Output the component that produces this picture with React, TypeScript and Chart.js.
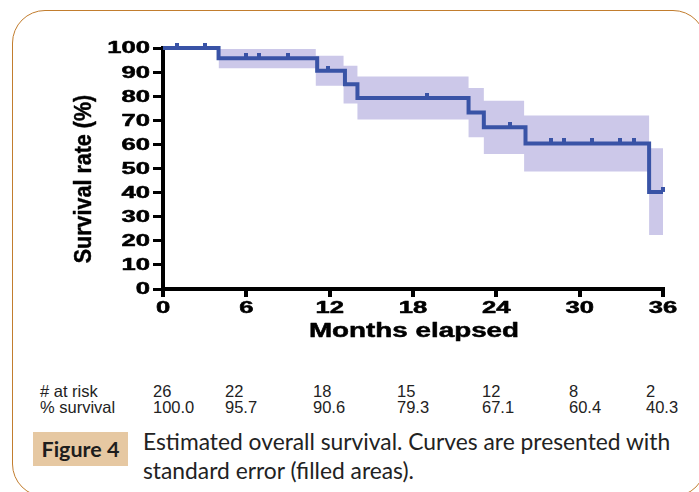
import React, { useEffect, useRef } from "react";
import { Chart, registerables } from "chart.js";

Chart.register(...registerables);

// Kaplan-Meier step points (months, % survival)
const months = [0, 4.0, 11.1, 13.1, 14.0, 22.0, 23.1, 26.1, 35.0, 36.0];
const survival = [100, 95.7, 90.6, 85.0, 79.3, 73.2, 67.1, 60.4, 40.3, 40.3];

// Standard-error band (stepped)
const bandMonths = [4.0, 11.0, 13.0, 14.0, 22.0, 23.1, 26.0, 35.0, 36.0];
const bandUpper = [99.6, 96.8, 92.6, 88.2, 83.4, 78.1, 72.0, 58.4, 58.4];
const bandLower = [91.6, 84.3, 77.0, 70.3, 63.0, 56.0, 48.8, 22.4, 22.4];

// Censoring marks
const censorMonths = [1.0, 3.0, 6.0, 6.9, 9.0, 11.9, 19.0, 25.0, 27.9, 28.9, 30.9, 32.9, 33.9, 36.0];
const censorSurvival = [100, 100, 95.7, 95.7, 95.7, 90.6, 79.3, 67.1, 60.4, 60.4, 60.4, 60.4, 60.4, 40.3];

// Axis ticks
const xTicks = [0, 6, 12, 18, 24, 30, 36];
const yTicks = [0, 10, 20, 30, 40, 50, 60, 70, 80, 90, 100];

// Risk table
const atRisk = ["26", "22", "18", "15", "12", "8", "2"];
const pctSurvival = ["100.0", "95.7", "90.6", "79.3", "67.1", "60.4", "40.3"];

const xTitle = "Months elapsed";
const yTitle = "Survival rate (%)";
const figLabel = "Figure 4";
const captionLines = [
  "Estimated overall survival. Curves are presented with",
  "standard error (filled areas).",
];

const LINE = "#3953a6";
const BAND = "rgb(204,200,233)";
const AXIS_FONT = '"Liberation Sans", Arial, Helvetica, sans-serif';

function heavyText(ctx: any, text: string, w: number) {
  ctx.fillText(text, 0, 0);
  ctx.lineWidth = w;
  ctx.strokeStyle = "#000";
  ctx.lineJoin = "round";
  ctx.strokeText(text, 0, 0);
}

const labelPlugin = {
  id: "stretchedLabels",
  afterDraw(chart: any) {
    const { ctx, chartArea, scales } = chart;
    const xs = scales.x;
    const ys = scales.y;
    ctx.save();
    ctx.fillStyle = "#000";
    ctx.font = `bold 16px ${AXIS_FONT}`;
    ctx.textAlign = "right";
    ctx.textBaseline = "middle";
    yTicks.forEach((v) => {
      const py = ys.getPixelForValue(v);
      ctx.save();
      ctx.translate(chartArea.left - 13, py + 1);
      ctx.scale(1.6, 1);
      heavyText(ctx, String(v), 0.5);
      ctx.restore();
    });
    ctx.textAlign = "center";
    ctx.textBaseline = "alphabetic";
    xTicks.forEach((v) => {
      const px = xs.getPixelForValue(v);
      ctx.save();
      ctx.translate(px, chartArea.bottom + 24);
      ctx.scale(1.6, 1);
      heavyText(ctx, String(v), 0.5);
      ctx.restore();
    });
    ctx.font = `bold 20px ${AXIS_FONT}`;
    ctx.save();
    ctx.translate((chartArea.left + chartArea.right) / 2 + 1, chartArea.bottom + 48);
    ctx.scale(1.39, 1);
    heavyText(ctx, xTitle, 0.5);
    ctx.restore();
    ctx.font = `bold 21.5px ${AXIS_FONT}`;
    ctx.save();
    ctx.translate(chartArea.left - 72, chartArea.top + 131);
    ctx.rotate(-Math.PI / 2);
    ctx.scale(1, 1.12);
    heavyText(ctx, yTitle, 0.4);
    ctx.restore();
    ctx.restore();
  },
};

function makeCensorMark(): HTMLCanvasElement {
  const c = document.createElement("canvas");
  c.width = 4;
  c.height = 10;
  const g = c.getContext("2d");
  if (g) {
    g.fillStyle = LINE;
    g.fillRect(0, 0, 4, 5);
  }
  return c;
}

export default function App() {
  const canvasRef = useRef<HTMLCanvasElement | null>(null);

  useEffect(() => {
    const canvas = canvasRef.current;
    if (!canvas) return;
    const mark = makeCensorMark();
    const chart = new Chart(canvas, {
      type: "line",
      data: {
        datasets: [
          {
            data: months.map((m, i) => ({ x: m, y: survival[i] })),
            borderColor: LINE,
            borderWidth: 4,
            stepped: true,
            pointRadius: 0,
            fill: false,
            clip: false,
            borderJoinStyle: "miter",
            borderCapStyle: "butt",
          },
          {
            data: censorMonths.map((m, i) => ({ x: m, y: censorSurvival[i] })),
            showLine: false,
            pointStyle: mark,
            pointRadius: 5,
            clip: false,
          },
          {
            data: bandMonths.map((m, i) => ({ x: m, y: bandUpper[i] })),
            stepped: true,
            borderWidth: 0,
            borderColor: "rgba(0,0,0,0)",
            pointRadius: 0,
            fill: false,
          },
          {
            data: bandMonths.map((m, i) => ({ x: m, y: bandLower[i] })),
            stepped: true,
            borderWidth: 0,
            borderColor: "rgba(0,0,0,0)",
            backgroundColor: BAND,
            pointRadius: 0,
            fill: "-1",
          },
        ],
      } as any,
      options: {
        animation: false,
        responsive: false,
        devicePixelRatio: 1,
        layout: { padding: { left: 60, top: 48, right: 36, bottom: 0 } },
        plugins: {
          legend: { display: false },
          tooltip: { enabled: false },
        },
        events: [],
        scales: {
          x: {
            type: "linear",
            min: 0,
            max: 36,
            ticks: { stepSize: 6, display: false },
            grid: {
              display: true,
              drawOnChartArea: false,
              drawTicks: true,
              tickLength: 8,
              tickWidth: 4,
              tickColor: "#000",
              color: "#000",
              lineWidth: 4,
            },
            border: { display: true, color: "#000", width: 4 },
            afterFit: (s: any) => {
              s.height = 81;
            },
          },
          y: {
            type: "linear",
            min: 0,
            max: 100,
            ticks: { stepSize: 10, display: false },
            grid: {
              display: true,
              drawOnChartArea: false,
              drawTicks: true,
              tickLength: 10,
              tickWidth: 3,
              tickColor: "#000",
              color: "#000",
              lineWidth: 3,
            },
            border: { display: true, color: "#000", width: 4 },
            afterFit: (s: any) => {
              s.width = 103;
            },
          },
        },
      } as any,
      plugins: [labelPlugin],
    });
    return () => chart.destroy();
  }, []);

  const colLeft = [153, 225, 313, 397, 482, 569, 646];
  const tableFont = '"Liberation Sans", Arial, Helvetica, sans-serif';
  const capFont = "Lato, 'Open Sans', sans-serif";

  return (
    <div
      style={{
        position: "absolute",
        left: 0,
        top: 0,
        width: 699,
        height: 492,
        background: "#fff",
        overflow: "hidden",
      }}
    >
      <div
        style={{
          position: "absolute",
          left: 12,
          top: 10,
          width: 694,
          height: 487,
          border: "1.5px solid #c27d2e",
          borderRadius: 33,
          boxSizing: "border-box",
        }}
      />
      <canvas
        ref={canvasRef}
        width={699}
        height={370}
        style={{ position: "absolute", left: 0, top: 0, width: 699, height: 370 }}
      />
      <div
        style={{
          position: "absolute",
          left: 40,
          top: 383,
          fontFamily: tableFont,
          fontSize: 16.5,
          lineHeight: "16px",
          color: "#222",
          whiteSpace: "nowrap",
        }}
      >
        <div># at risk</div>
        <div>% survival</div>
      </div>
      {atRisk.map((v, i) => (
        <div
          key={i}
          style={{
            position: "absolute",
            left: colLeft[i],
            top: 383,
            fontFamily: tableFont,
            fontSize: 16.5,
            lineHeight: "16px",
            color: "#222",
            whiteSpace: "nowrap",
          }}
        >
          <div>{v}</div>
          <div>{pctSurvival[i]}</div>
        </div>
      ))}
      <div
        style={{
          position: "absolute",
          left: 33,
          top: 432,
          width: 95,
          height: 34,
          background: "#e6c8a2",
          display: "flex",
          alignItems: "center",
          justifyContent: "center",
          fontFamily: capFont,
          fontWeight: 700,
          fontSize: 21.5,
          color: "#1d1d1d",
        }}
      >
        {figLabel}
      </div>
      <div
        style={{
          position: "absolute",
          left: 143,
          top: 427,
          fontFamily: capFont,
          fontSize: 22.8,
          lineHeight: "29px",
          color: "#222",
          whiteSpace: "nowrap",
        }}
      >
        {captionLines.map((l, i) => (
          <div key={i}>{l}</div>
        ))}
      </div>
    </div>
  );
}
